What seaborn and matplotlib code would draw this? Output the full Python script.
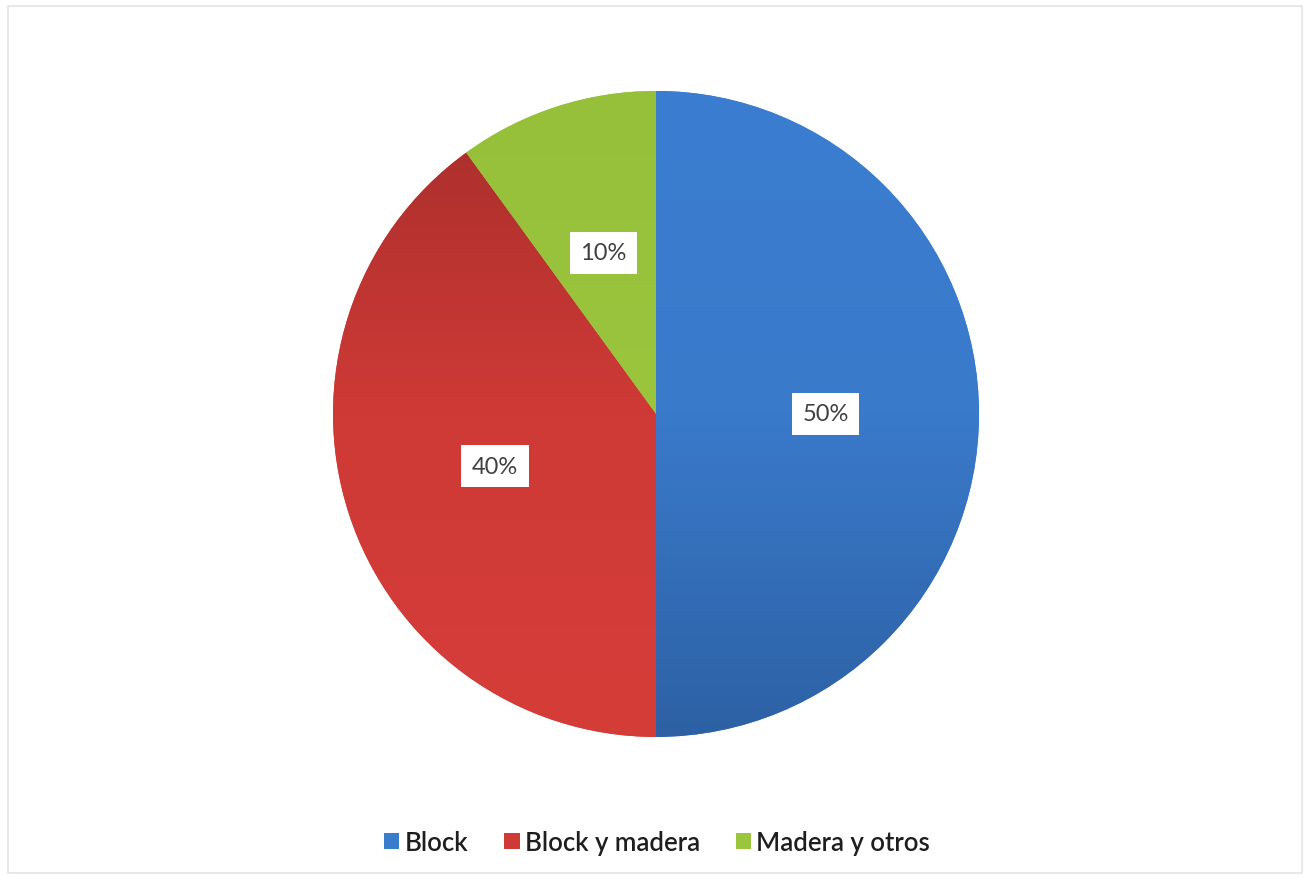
import matplotlib
matplotlib.use("Agg")
import numpy as np
import seaborn as sns
import matplotlib.pyplot as plt
from matplotlib.patches import Rectangle
from matplotlib.colors import LinearSegmentedColormap

categories = ["Block", "Block y madera", "Madera y otros"]
shares = [50, 40, 10]
colors = ["#3a7bcc", "#d03a36", "#9bc53d"]
# shading of each slice, top -> middle -> bottom
shade_stops = [
    ["#3b7dd0", "#3a7acb", "#2d61a4"],
    ["#a62e2b", "#cf3a36", "#d53d39"],
    ["#96c03a", "#9bc53d", "#9fc940"],
]

sns.set_theme(style="white")
plt.rcParams["font.family"] = ["Lato", "DejaVu Sans"]

fig = plt.figure(figsize=(13.05, 8.78), dpi=100)
ax = fig.add_axes([0.2552, 0.1595, 0.495, 0.7358])

wedges, texts, autotexts = ax.pie(
    shares,
    colors=colors,
    startangle=90,
    counterclock=False,
    autopct="%d%%",
    pctdistance=0.525,
    wedgeprops=dict(linewidth=0),
    textprops=dict(fontsize=17, color="#404040", zorder=5),
)

# vertical gradient on every slice, clipped to the wedge
grad = np.linspace(0, 1, 256).reshape(-1, 1)
for w, stops in zip(wedges, shade_stops):
    cmap = LinearSegmentedColormap.from_list("shade", stops)
    im = ax.imshow(grad, cmap=cmap, extent=[-1, 1, -1, 1], origin="upper",
                   aspect="auto", zorder=2, interpolation="bilinear")
    im.set_clip_path(w)

for t in autotexts:
    t.set_bbox(dict(facecolor="white", edgecolor="none", boxstyle="square,pad=0.45"))

ax.set_xlim(-1.0, 1.0)
ax.set_ylim(-1.0, 1.0)
ax.set_aspect("equal")
ax.axis("off")

fig.legend(
    wedges, categories,
    loc="center", bbox_to_anchor=(0.5035, 0.039),
    ncol=3, frameon=False, prop=dict(size=18.5, weight="semibold"),
    handlelength=0.6, handleheight=0.6, handletextpad=0.2,
    columnspacing=1.4, labelcolor="#1e1e1e",
)

# faint frame around the chart area
fig.patches.append(Rectangle((0.006, 0.004), 0.992, 0.988, transform=fig.transFigure,
                             fill=False, edgecolor="#e4e4e4", linewidth=1.2))

fig.savefig("out.png", dpi=100)
